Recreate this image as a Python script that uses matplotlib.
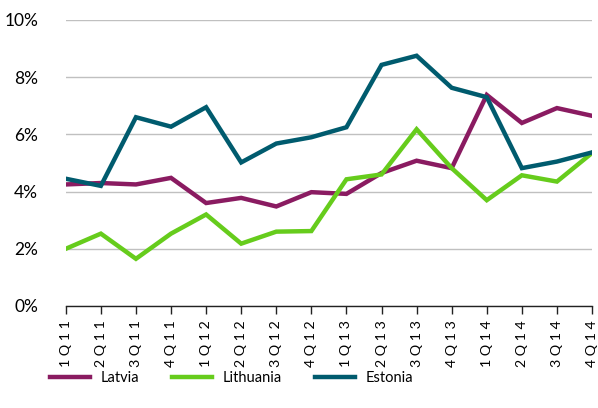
import numpy as np
import matplotlib
matplotlib.use("Agg")
import matplotlib.pyplot as plt
from matplotlib.ticker import FuncFormatter

plt.rcParams['font.family'] = ['Lato', 'DejaVu Sans']

quarters = ["1Q11", "2Q11", "3Q11", "4Q11", "1Q12", "2Q12", "3Q12", "4Q12",
            "1Q13", "2Q13", "3Q13", "4Q13", "1Q14", "2Q14", "3Q14", "4Q14"]

latvia = [4.25, 4.3, 4.25, 4.48, 3.6, 3.78, 3.48, 3.98,
          3.92, 4.65, 5.08, 4.82, 7.38, 6.4, 6.92, 6.65]
lithuania = [2.0, 2.53, 1.65, 2.53, 3.2, 2.18, 2.6, 2.62,
             4.43, 4.6, 6.18, 4.82, 3.7, 4.57, 4.35, 5.35]
estonia = [4.45, 4.2, 6.6, 6.27, 6.95, 5.02, 5.68, 5.9,
           6.25, 8.43, 8.75, 7.63, 7.3, 4.82, 5.05, 5.37]

fig = plt.figure(figsize=(5.98, 4.08), dpi=100)
ax = fig.add_axes([0.110, 0.25, 0.880, 0.701])

x = np.arange(len(quarters))
ax.plot(x, latvia, color="#8a1b61", lw=3.2, label="Latvia", solid_joinstyle="miter")
ax.plot(x, lithuania, color="#66cc1c", lw=3.2, label="Lithuania", solid_joinstyle="miter")
ax.plot(x, estonia, color="#005b6e", lw=3.2, label="Estonia", solid_joinstyle="miter")

ax.set_xlim(0, len(quarters) - 1)
ax.set_ylim(0, 10)
ax.set_yticks(np.arange(0, 11, 2))
ax.yaxis.set_major_formatter(FuncFormatter(lambda v, p: f"{v:.0f}%"))
ax.grid(axis="y", color="#c0c0c0", lw=1)
ax.set_axisbelow(True)

for s in ["top", "right", "left"]:
    ax.spines[s].set_visible(False)
ax.spines["bottom"].set_color("#222222")
ax.spines["bottom"].set_linewidth(1)

ax.set_xticks(x)
ax.set_xticklabels([" ".join(q) for q in quarters], rotation=90, fontsize=10.2)
ax.tick_params(axis="x", length=6, width=1, color="#222222", pad=4)
ax.tick_params(axis="y", length=0, labelsize=12.5, pad=20)

fig.legend(loc="center left", bbox_to_anchor=(50 / 598, 1 - 378 / 408), ncol=3,
           frameon=False, fontsize=10.5, borderpad=0, borderaxespad=0,
           handlelength=2.74, columnspacing=2.3, handletextpad=0.7)

fig.savefig("out.png", dpi=100)
